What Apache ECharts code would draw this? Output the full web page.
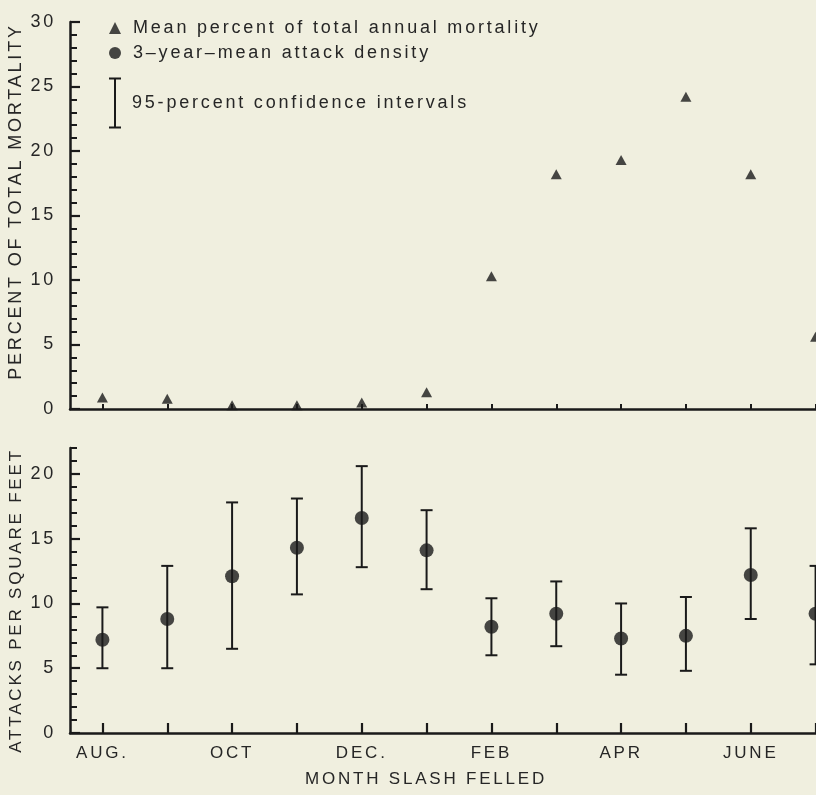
<!DOCTYPE html>
<html>
<head>
<meta charset="utf-8">
<script src="https://cdn.jsdelivr.net/npm/echarts@6/dist/echarts.min.js"></script>
<style>
html,body{margin:0;padding:0;background:#f0efdf;}
#chart{width:816px;height:795px;}
</style>
</head>
<body>
<div id="chart"></div>
<script>
// ---- data ----
const months = ['AUG.', 'SEPT.', 'OCT', 'NOV.', 'DEC.', 'JAN.', 'FEB', 'MAR.', 'APR', 'MAY', 'JUNE', 'JULY'];
const mortalityPercent = [0.9, 0.8, 0.3, 0.3, 0.5, 1.3, 10.3, 18.2, 19.3, 24.2, 18.2, 5.6];
const attackDensity = [7.2, 8.8, 12.1, 14.3, 16.6, 14.1, 8.2, 9.2, 7.3, 7.5, 12.2, 9.2];
const ciLower = [5.0, 5.0, 6.5, 10.7, 12.8, 11.1, 6.0, 6.7, 4.5, 4.8, 8.8, 5.3];
const ciUpper = [9.7, 12.9, 17.8, 18.1, 20.6, 17.2, 10.4, 11.7, 10.0, 10.5, 15.8, 12.9];
const mortalityTicks = [0, 5, 10, 15, 20, 25, 30];
const attackTicks = [0, 5, 10, 15, 20];
const mortalityMax = 30;
const attackMax = 22;

const nameMortality = 'Mean percent of total annual mortality';
const nameAttack = '3\u2013year\u2013mean attack density';
const nameCI = '95-percent confidence intervals';

// ---- style ----
const FONT = '"Liberation Sans", Arial, Helvetica, sans-serif';
const INK = '#1a1a1a';
const TXT = '#262626';
const SPACING = '2.8px';

function majorAxis(grid, max, ticks, name, namePad) {
  return {
    type: 'value', gridIndex: grid, position: 'left', min: 0, max: max, interval: 5,
    axisLine: { show: true, lineStyle: { color: INK, width: 2.5 } },
    axisTick: { show: true, inside: true, length: 10, customValues: ticks, lineStyle: { color: INK, width: 2.2 } },
    axisLabel: { show: true, customValues: ticks, margin: 14, fontSize: 18, color: TXT, fontFamily: FONT, padding: [0, 0, 10, 0] },
    splitLine: { show: false },
    name: name, nameLocation: 'middle', nameGap: 45,
    nameTextStyle: { fontSize: grid === 0 ? 18 : 17, color: TXT, fontFamily: FONT, padding: namePad }
  };
}
function minorAxis(grid, max) {
  return {
    type: 'value', gridIndex: grid, position: 'left', offset: 0, min: 0, max: max, interval: 1,
    axisLine: { show: false },
    axisTick: { show: true, inside: true, length: 7, lineStyle: { color: INK, width: 2 } },
    axisLabel: { show: false },
    splitLine: { show: false }
  };
}

const option = {
  backgroundColor: '#f0efdf',
  animation: false,
  grid: [
    { left: 70, width: 778, top: 22, height: 387, outerBoundsMode: 'none', containLabel: false },
    { left: 70, width: 778, top: 448, height: 285, outerBoundsMode: 'none', containLabel: false }
  ],
  legend: [
    {
      orient: 'vertical', left: 109, top: 19, padding: 0, itemGap: 7,
      itemWidth: 12, itemHeight: 12, selectedMode: false,
      data: [{ name: nameMortality, icon: 'triangle' }, { name: nameAttack, icon: 'circle' }],
      textStyle: { fontSize: 18, lineHeight: 18, color: TXT, fontFamily: FONT, padding: [0, 0, 0, 7] }
    },
    {
      orient: 'vertical', left: 109, top: 75, padding: 0,
      itemWidth: 12, itemHeight: 51, selectedMode: false,
      data: [{ name: nameCI, icon: 'path://M0,0H12V2H7V49H12V51H0V49H5V2H0Z' }],
      textStyle: { fontSize: 18, lineHeight: 18, color: TXT, fontFamily: FONT, padding: [0, 0, 38, 6] }
    }
  ],
  xAxis: [
    {
      type: 'category', gridIndex: 0, data: months, boundaryGap: true,
      axisLine: { show: true, lineStyle: { color: INK, width: 2.5 } },
      axisTick: { show: true, inside: true, length: 5, interval: 0, alignWithLabel: true, lineStyle: { color: INK, width: 2 } },
      axisLabel: { show: false },
      splitLine: { show: false }
    },
    {
      type: 'category', gridIndex: 1, data: months, boundaryGap: true,
      axisLine: { show: true, lineStyle: { color: INK, width: 2.5 } },
      axisTick: { show: true, inside: true, length: 10, interval: 0, alignWithLabel: true, lineStyle: { color: INK, width: 2.2 } },
      axisLabel: { show: true, interval: 1, margin: 12, fontSize: 17, color: TXT, fontFamily: FONT },
      splitLine: { show: false },
      name: 'MONTH SLASH FELLED', nameLocation: 'middle', nameGap: 38,
      nameTextStyle: { fontSize: 17, color: TXT, fontFamily: FONT, padding: [0, 66, 0, 0] }
    }
  ],
  yAxis: [
    majorAxis(0, mortalityMax, mortalityTicks, 'PERCENT OF TOTAL MORTALITY', [0, 0, 0, 28]),
    minorAxis(0, mortalityMax),
    majorAxis(1, attackMax, attackTicks, 'ATTACKS PER SQUARE FEET', [0, 20, 0, 0]),
    minorAxis(1, attackMax)
  ],
  series: [
    {
      name: nameMortality, type: 'scatter', xAxisIndex: 0, yAxisIndex: 0,
      symbol: 'triangle', symbolSize: [11, 10], z: 5, clip: false,
      itemStyle: { color: INK },
      data: mortalityPercent
    },
    {
      name: nameCI, type: 'custom', xAxisIndex: 1, yAxisIndex: 2,
      itemStyle: { color: INK },
      encode: { x: 0, y: [1, 2] },
      data: months.map((m, i) => [i, ciLower[i], ciUpper[i]]),
      renderItem: function (params, api) {
        const lo = api.coord([api.value(0), api.value(1)]);
        const hi = api.coord([api.value(0), api.value(2)]);
        const hw = 6;
        const st = { stroke: INK, lineWidth: 2, fill: null };
        return {
          type: 'group',
          children: [
            { type: 'line', shape: { x1: lo[0], y1: lo[1], x2: hi[0], y2: hi[1] }, style: st },
            { type: 'line', shape: { x1: lo[0] - hw, y1: lo[1], x2: lo[0] + hw, y2: lo[1] }, style: st },
            { type: 'line', shape: { x1: hi[0] - hw, y1: hi[1], x2: hi[0] + hw, y2: hi[1] }, style: st }
          ]
        };
      }
    },
    {
      name: nameAttack, type: 'scatter', xAxisIndex: 1, yAxisIndex: 2,
      symbol: 'circle', symbolSize: 14, z: 5, clip: false,
      itemStyle: { color: INK },
      data: attackDensity
    }
  ]
};

const chart = echarts.init(document.getElementById('chart'), null, { renderer: 'canvas' });
const zr = chart.getZr();
function applySpacing() {
  document.querySelectorAll('#chart canvas').forEach(function (c) {
    try { c.getContext('2d').letterSpacing = SPACING; } catch (e) {}
  });
}
try { const layer = zr.painter.getLayer(0); if (layer && layer.ctx) layer.ctx.letterSpacing = SPACING; } catch (e) {}
chart.setOption(option);
applySpacing();
try { zr.painter.refresh(true); } catch (e) {}
</script>
</body>
</html>
